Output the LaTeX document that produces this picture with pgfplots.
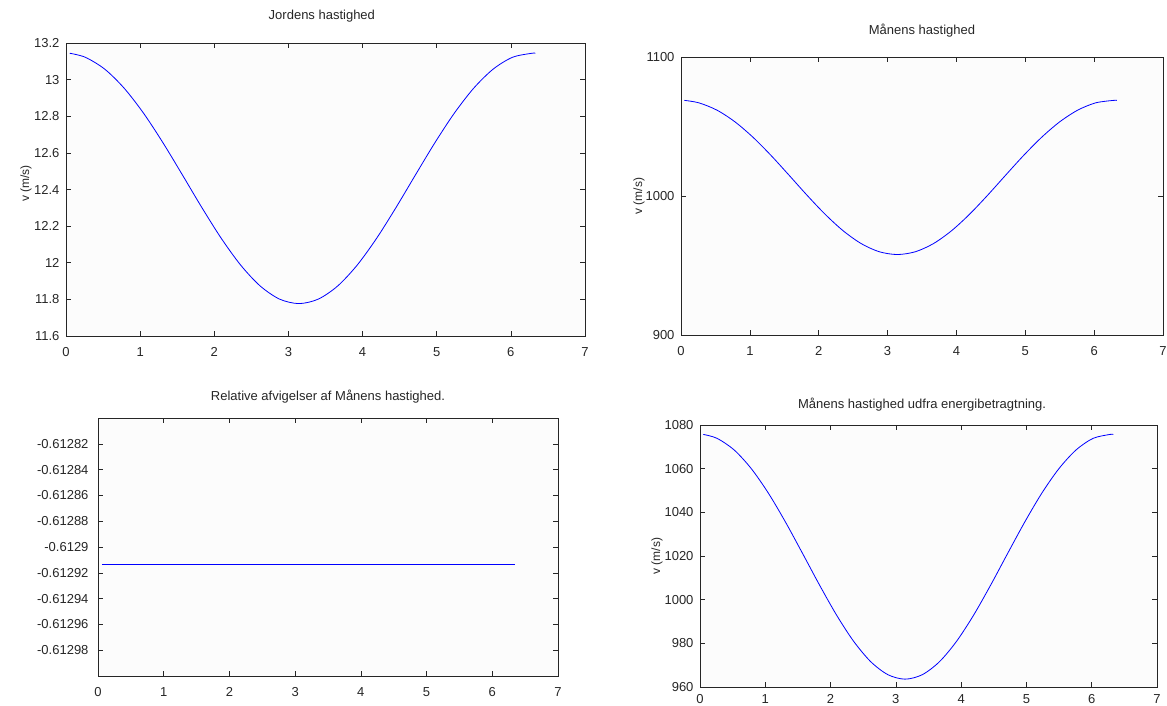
\documentclass[border=0pt]{standalone}
\usepackage{fontspec}
\setmainfont{Liberation Sans}
\usepackage{pgfplots}
\usepackage{pgfplotstable}
\pgfplotsset{compat=1.18}
\definecolor{axgray}{gray}{0.15}
\definecolor{axbg}{RGB}{252,252,252}

% x = orbital angle (rad); columns: Earth speed, Moon speed, Moon speed from energy
\pgfplotstableread{
x       earth     moon     energy
0.05    13.144    1068.80  1075.70
0.2618  13.1219   1067.01  1073.89
0.5236  13.0569   1061.73  1068.56
0.7854  12.9528   1053.29  1060.02
1.0472  12.8160   1042.18  1048.80
1.3090  12.6546   1029.10  1035.57
1.5708  12.4792   1014.87  1021.19
1.8326  12.3013   1000.43  1006.60
2.0944  12.1332    986.79   992.81
2.3562  11.9870    974.93   980.82
2.6180  11.8735    965.73   971.51
2.8798  11.8016    959.90   965.62
3.1416  11.7770    957.90   963.60
3.4034  11.8016    959.90   965.62
3.6652  11.8735    965.73   971.51
3.9270  11.9870    974.93   980.82
4.1888  12.1332    986.79   992.81
4.4506  12.3013   1000.43  1006.60
4.7124  12.4792   1014.87  1021.19
4.9742  12.6546   1029.10  1035.57
5.2360  12.8160   1042.18  1048.80
5.4978  12.9528   1053.29  1060.02
5.7596  13.0569   1061.73  1068.56
6.0214  13.1219   1067.01  1073.89
6.2832  13.1440   1068.80  1075.70
6.3300  13.1435   1068.76  1075.66
}\speeds

\pgfplotstableread{
x      rel
0.06   -0.6129135
1.5    -0.6129135
3.0    -0.6129135
4.5    -0.6129135
6.35   -0.6129135
}\reldev

\pgfplotsset{
  mstyle/.style={
    scale only axis,
    axis background/.style={fill=axbg},
    axis line style={axgray, line width=0.6pt},
    every tick/.style={axgray, line width=0.6pt},
    major tick length=5pt,
    tick align=inside,
    xmin=0, xmax=7, xtick={0,1,2,3,4,5,6,7},
    tick label style={font=\fontsize{13}{15}\selectfont, text=axgray},
    /pgf/number format/assume math mode=true,
    /pgf/number format/1000 sep={},
    xticklabel style={yshift=-8pt},
    yticklabel style={xshift=-3pt},
    title style={font=\fontsize{13}{15}\selectfont, text=axgray, anchor=center, yshift=-7pt},
    ylabel style={font=\fontsize{12}{14}\selectfont, text=axgray, anchor=center},
    scaled ticks=false,
  },
  vline/.style={draw=blue, line width=0.8pt, smooth, mark=none},
}

\begin{document}
\begin{tikzpicture}
\path[use as bounding box] (0pt,0pt) rectangle (1167pt,-705pt);

% top left
\begin{axis}[mstyle, at={(66pt,-336pt)}, anchor=south west,
  width=519pt, height=293pt,
  ymin=11.6, ymax=13.2,
  ytick={11.6,11.8,12,12.2,12.4,12.6,12.8,13,13.2},
  title={Jordens hastighed},
  title style={at={(axis description cs:0.493,1.0956)}},
  ylabel={v (m/s)},
  ylabel style={at={(axis description cs:-0.077,0.52)}}]
\addplot[vline] table[x=x, y=earth] {\speeds};
\end{axis}

% top right
\begin{axis}[mstyle, at={(681pt,-335pt)}, anchor=south west,
  width=482pt, height=278pt,
  ymin=900, ymax=1100,
  ytick={900,1000,1100},
  title={Månens hastighed},
  title style={at={(axis description cs:0.5,1.097)}},
  ylabel={v (m/s)},
  ylabel style={at={(axis description cs:-0.087,0.5)}}]
\addplot[vline] table[x=x, y=moon] {\speeds};
\end{axis}

% bottom left
\begin{axis}[mstyle, at={(98pt,-676pt)}, anchor=south west,
  width=460pt, height=258pt,
  ymin=-0.61300, ymax=-0.61280,
  ytick={-0.61298,-0.61296,-0.61294,-0.61292,-0.6129,-0.61288,-0.61286,-0.61284,-0.61282},
  yticklabel style={/pgf/number format/fixed, /pgf/number format/precision=5, xshift=-3pt},
  title={Relative afvigelser af Månens hastighed.},
  title style={at={(axis description cs:0.5,1.088)}}]
\addplot[draw=blue, line width=0.9pt, mark=none] table[x=x, y=rel] {\reldev};
\end{axis}

% bottom right
\begin{axis}[mstyle, at={(700pt,-687pt)}, anchor=south west,
  width=457pt, height=262pt,
  ymin=960, ymax=1080,
  ytick={960,980,1000,1020,1040,1060,1080},
  xticklabel style={yshift=4pt},
  title={Månens hastighed udfra energibetragtning.},
  title style={at={(axis description cs:0.486,1.08)}},
  ylabel={v (m/s)},
  ylabel style={at={(axis description cs:-0.094,0.5)}}]
\addplot[vline] table[x=x, y=energy] {\speeds};
\end{axis}
\end{tikzpicture}
\end{document}
